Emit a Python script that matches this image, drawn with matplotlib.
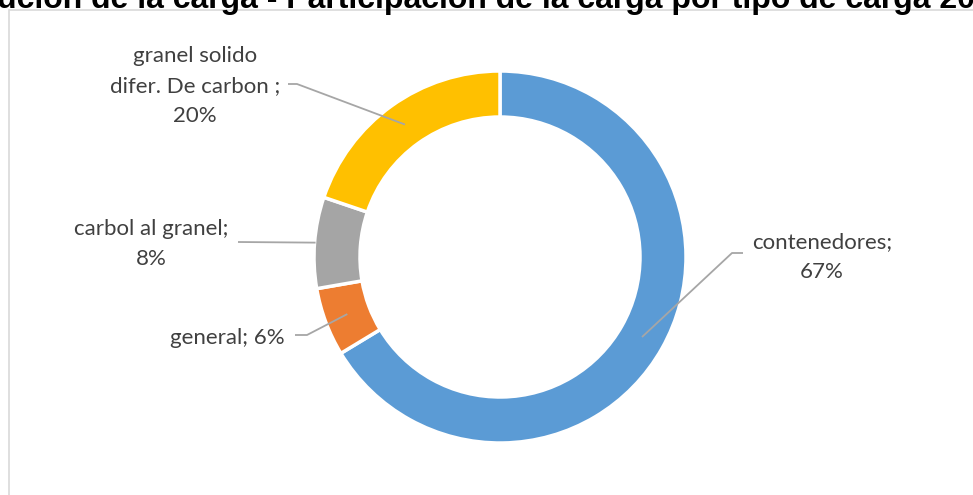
import matplotlib.pyplot as plt
import numpy as np
from matplotlib.patches import Rectangle

# datos
categorias = ['contenedores', 'general', 'carbol al granel', 'granel solido\ndifer. De carbon ']
valores = [67, 6, 8, 20]
etiquetas = ['contenedores;\n67%', 'general; 6%', 'carbol al granel;\n8%',
             'granel solido\ndifer. De carbon ;\n20%']
colores = ['#5B9BD5', '#ED7D31', '#A5A5A5', '#FFC000']
titulo = 'ución de la carga - Participación de la carga por tipo de carga 20'

W, H = 973, 495


def py(y):
    # pixeles desde arriba -> coordenadas de datos
    return H - y


fig = plt.figure(figsize=(W / 100, H / 100), dpi=100)
ax = fig.add_axes([0, 0, 1, 1])

cx, cy, R = 500, py(257), 186
wedges, _ = ax.pie(valores, colors=colores, startangle=90, counterclock=False,
                   radius=R, center=(cx, cy),
                   wedgeprops=dict(width=46, edgecolor='white', linewidth=2.5))
ax.set_xlim(0, W)
ax.set_ylim(0, H)
ax.set_aspect('equal')
ax.axis('off')

# borde del area del grafico
fig.patches.append(Rectangle((9 / W, -0.1), 1.2, (H - 10) / H + 0.1,
                             transform=fig.transFigure, fill=False,
                             edgecolor='#D9D9D9', linewidth=1.2))

# titulo (recortado por arriba, como en el original)
fig.text(-3 / W, 1 - 8 / H, titulo, ha='left', va='baseline',
         fontsize=23, fontweight='bold', family='Liberation Sans', color='black')

# etiquetas con lineas guia
# (texto x, texto y, ha, codo1, codo2, radio del ancla)
pos = [
    (822, 257, 'center', (743, 253), (732, 253), R - 23),
    (285, 338, 'right', (295, 335), (307, 335), R - 23),
    (151, 244, 'center', (238, 242), (238, 242), R - 1),
    (195, 86, 'center', (288, 84), (297, 84), R - 23),
]
for w, lab, (tx, ty, ha, c1, c2, r) in zip(wedges, etiquetas, pos):
    ang = np.deg2rad((w.theta1 + w.theta2) / 2)
    axp = cx + r * np.cos(ang)
    ayp = cy + r * np.sin(ang)
    ax.plot([c1[0], c2[0], axp], [py(c1[1]), py(c2[1]), ayp],
            color='#A6A6A6', linewidth=1.3, solid_capstyle='butt')
    ax.text(tx, py(ty), lab, ha=ha, va='center', multialignment='center',
            fontsize=16, family='Lato', color='#404040', linespacing=1.6)

plt.savefig('out.png', dpi=100)
